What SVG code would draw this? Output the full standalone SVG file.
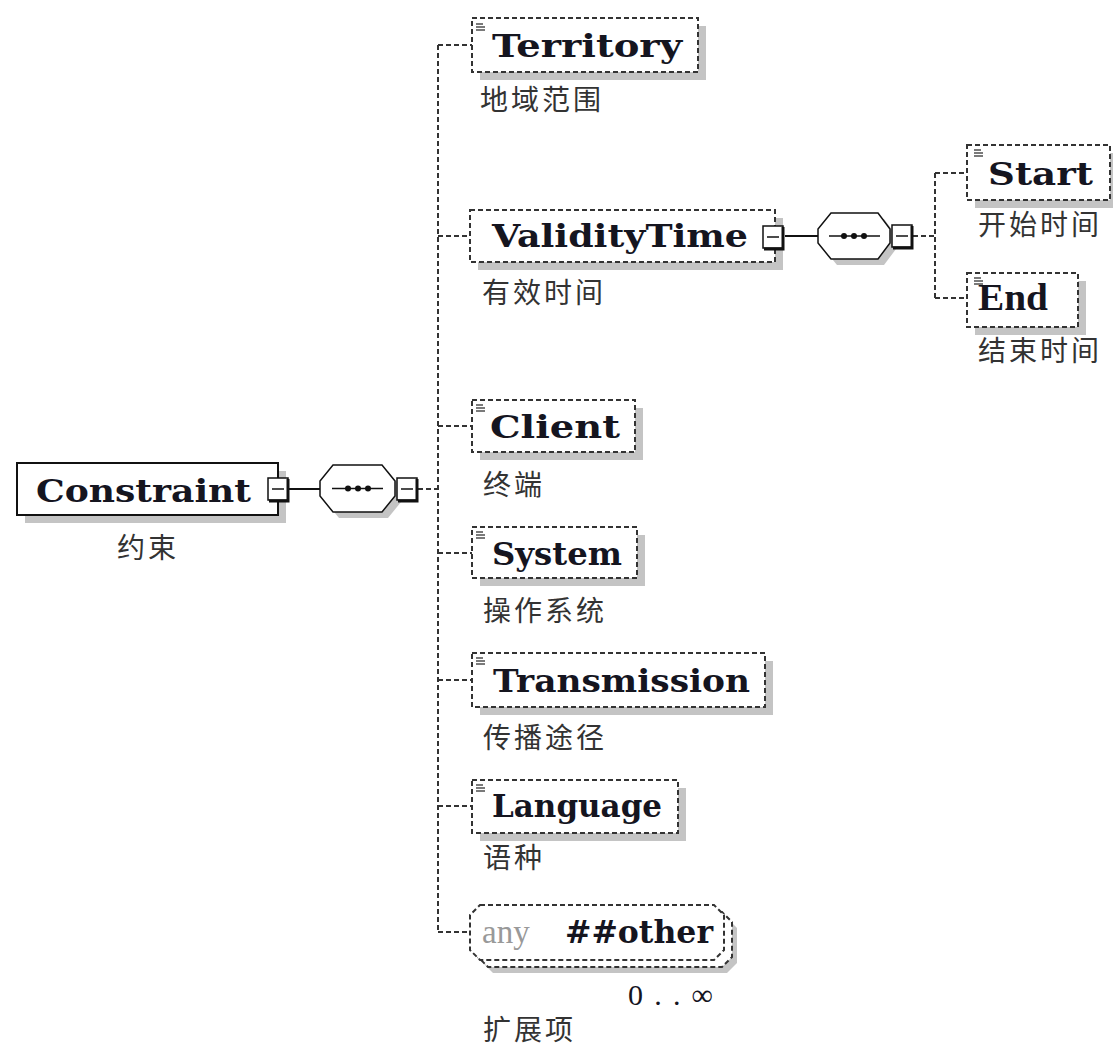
<svg xmlns="http://www.w3.org/2000/svg" width="1113" height="1048" viewBox="0 0 1113 1048">
<style>
.bg{fill:#fff}
.shadow{fill:#c4c4c4;stroke:none}
.dbox{fill:#fff;stroke:#333;stroke-width:2;stroke-dasharray:5 3}
.sbox{fill:#fff;stroke:#111;stroke-width:2}
.dash{fill:none;stroke:#333;stroke-width:2;stroke-dasharray:5 3}
.solid{fill:none;stroke:#111;stroke-width:2}
.name{font-family:"DejaVu Serif","Liberation Serif",serif;font-weight:bold;font-size:32px;fill:#15151f}
.serifb{font-family:"Liberation Serif",serif;font-weight:bold;font-size:38px;fill:#15151f}
.lbl{font-family:"Noto Sans CJK SC","Noto Sans",sans-serif;font-size:28px;letter-spacing:3px;fill:#333}
.anyt{font-family:"Liberation Serif",serif;font-size:33px;fill:#999}
.card{font-family:"Liberation Serif",serif;font-size:30px;fill:#15151f}
.icon{stroke:#222;stroke-width:1.2}
.dot{fill:#111}
</style>
<defs>
<g id="minus">
<rect x="0" y="0" width="20" height="22" fill="#fff" stroke="#111" stroke-width="1.5"/>
<path d="M20 1 V23 H1" fill="none" stroke="#111" stroke-width="3"/>
<line x1="4" y1="11" x2="16" y2="11" stroke="#111" stroke-width="1.5"/>
</g>
<g id="ico">
<line class="icon" x1="0" y1="0" x2="7" y2="0"/>
<line class="icon" x1="0" y1="3" x2="9" y2="3"/>
<line class="icon" x1="0" y1="6" x2="9" y2="6"/>
</g>
<g id="seq">
<polygon points="13,0 62,0 75,16 75,31 62,47 13,47 0,31 0,16" fill="#fff" stroke="#111" stroke-width="1.5"/>
<line x1="12" y1="23.5" x2="63" y2="23.5" stroke="#111" stroke-width="1.5"/>
<circle class="dot" cx="28" cy="23.5" r="3"/>
<circle class="dot" cx="38" cy="23.5" r="3"/>
<circle class="dot" cx="48" cy="23.5" r="3"/>
</g>
</defs>
<rect class="bg" x="0" y="0" width="1113" height="1048"/>

<g id="connectors">
<line class="solid" x1="289" y1="489" x2="320" y2="489"/>
<line class="dash" x1="418" y1="489" x2="438" y2="489"/>
<line class="dash" x1="438" y1="45" x2="438" y2="932"/>
<line class="dash" x1="438" y1="45" x2="472" y2="45"/>
<line class="dash" x1="438" y1="236" x2="470" y2="236"/>
<line class="dash" x1="438" y1="426" x2="472" y2="426"/>
<line class="dash" x1="438" y1="553" x2="472" y2="553"/>
<line class="dash" x1="438" y1="680" x2="472" y2="680"/>
<line class="dash" x1="438" y1="806" x2="472" y2="806"/>
<line class="dash" x1="438" y1="932" x2="470" y2="932"/>
<line class="solid" x1="785" y1="236" x2="818" y2="236"/>
<line class="dash" x1="913" y1="236" x2="935" y2="236"/>
<line class="dash" x1="935" y1="173" x2="935" y2="298"/>
<line class="dash" x1="935" y1="173" x2="967" y2="173"/>
<line class="dash" x1="935" y1="298" x2="967" y2="298"/>
</g>

<g id="constraint">
<rect class="shadow" x="25" y="471" width="261" height="52"/>
<rect class="sbox" x="17" y="463" width="261" height="52"/>
<text class="name" x="36" y="502" textLength="215" lengthAdjust="spacingAndGlyphs">Constraint</text>
<use href="#minus" x="268" y="478"/>
<text class="lbl" x="117" y="558">约束</text>
</g>

<g id="seq1">
<polygon class="shadow" points="339,471 388,471 401,487 401,502 388,518 339,518 326,502 326,487"/>
<use href="#seq" x="320" y="465"/>
<use href="#minus" x="397" y="478"/>
</g>

<g id="territory">
<rect class="shadow" x="480" y="26" width="226" height="54"/>
<rect class="dbox" x="472" y="18" width="226" height="54"/>
<use href="#ico" x="476" y="24"/>
<text class="name" x="492" y="57" textLength="190" lengthAdjust="spacingAndGlyphs">Territory</text>
<text class="lbl" x="480" y="110">地域范围</text>
</g>

<g id="validitytime">
<rect class="shadow" x="478" y="218" width="305" height="52"/>
<rect class="dbox" x="470" y="210" width="305" height="52"/>
<text class="name" x="492" y="247" textLength="256" lengthAdjust="spacingAndGlyphs">ValidityTime</text>
<use href="#minus" x="763" y="226"/>
<text class="lbl" x="482" y="303">有效时间</text>
</g>

<g id="seq2">
<polygon class="shadow" points="837,219 884,219 896,235 896,249 884,265 837,265 824,249 824,235"/>
<polygon points="831,213 878,213 890,229 890,243 878,259 831,259 818,243 818,229" fill="#fff" stroke="#111" stroke-width="1.5"/>
<line x1="829" y1="236" x2="880" y2="236" stroke="#111" stroke-width="1.5"/>
<circle class="dot" cx="844" cy="236" r="3"/>
<circle class="dot" cx="854" cy="236" r="3"/>
<circle class="dot" cx="864" cy="236" r="3"/>
<use href="#minus" x="892" y="225"/>
</g>

<g id="start">
<rect class="shadow" x="975" y="153" width="143" height="55"/>
<rect class="dbox" x="967" y="145" width="143" height="55"/>
<use href="#ico" x="974" y="150"/>
<text class="name" x="988" y="185" textLength="105" lengthAdjust="spacingAndGlyphs">Start</text>
<text class="lbl" x="978" y="235">开始时间</text>
</g>

<g id="end">
<rect class="shadow" x="975" y="281" width="111" height="54"/>
<rect class="dbox" x="967" y="273" width="111" height="54"/>
<use href="#ico" x="974" y="278"/>
<text class="serifb" x="978" y="310" textLength="70" lengthAdjust="spacingAndGlyphs">End</text>
<text class="lbl" x="978" y="361">结束时间</text>
</g>

<g id="client">
<rect class="shadow" x="480" y="408" width="163" height="52"/>
<rect class="dbox" x="472" y="400" width="163" height="52"/>
<use href="#ico" x="476" y="405"/>
<text class="name" x="490" y="438" textLength="130" lengthAdjust="spacingAndGlyphs">Client</text>
<text class="lbl" x="483" y="495">终端</text>
</g>

<g id="system">
<rect class="shadow" x="480" y="535" width="165" height="51"/>
<rect class="dbox" x="472" y="527" width="165" height="51"/>
<use href="#ico" x="476" y="532"/>
<text class="name" x="492" y="565" textLength="130" lengthAdjust="spacingAndGlyphs">System</text>
<text class="lbl" x="483" y="621">操作系统</text>
</g>

<g id="transmission">
<rect class="shadow" x="480" y="661" width="293" height="54"/>
<rect class="dbox" x="472" y="653" width="293" height="54"/>
<use href="#ico" x="476" y="658"/>
<text class="name" x="493" y="692" textLength="257" lengthAdjust="spacingAndGlyphs">Transmission</text>
<text class="lbl" x="483" y="748">传播途径</text>
</g>

<g id="language">
<rect class="shadow" x="480" y="788" width="206" height="53"/>
<rect class="dbox" x="472" y="780" width="206" height="53"/>
<use href="#ico" x="476" y="785"/>
<text class="name" x="492" y="817" textLength="170" lengthAdjust="spacingAndGlyphs">Language</text>
<text class="lbl" x="483" y="868">语种</text>
</g>

<g id="any">
<polygon class="shadow" points="493,918 727,918 737,928 737,963 727,973 493,973 483,963 483,928"/>
<polygon class="dbox" points="488,912 722,912 732,922 732,957 722,967 488,967 478,957 478,922"/>
<polygon class="dbox" points="480,905 714,905 724,915 724,950 714,960 480,960 470,950 470,915"/>
<text class="anyt" x="482" y="943">any</text>
<text class="name" x="565" y="943" textLength="148" lengthAdjust="spacingAndGlyphs">##other</text>
<text class="card" x="628" y="1005" textLength="85" lengthAdjust="spacing">0..∞</text>
<text class="lbl" x="483" y="1040">扩展项</text>
</g>
</svg>
